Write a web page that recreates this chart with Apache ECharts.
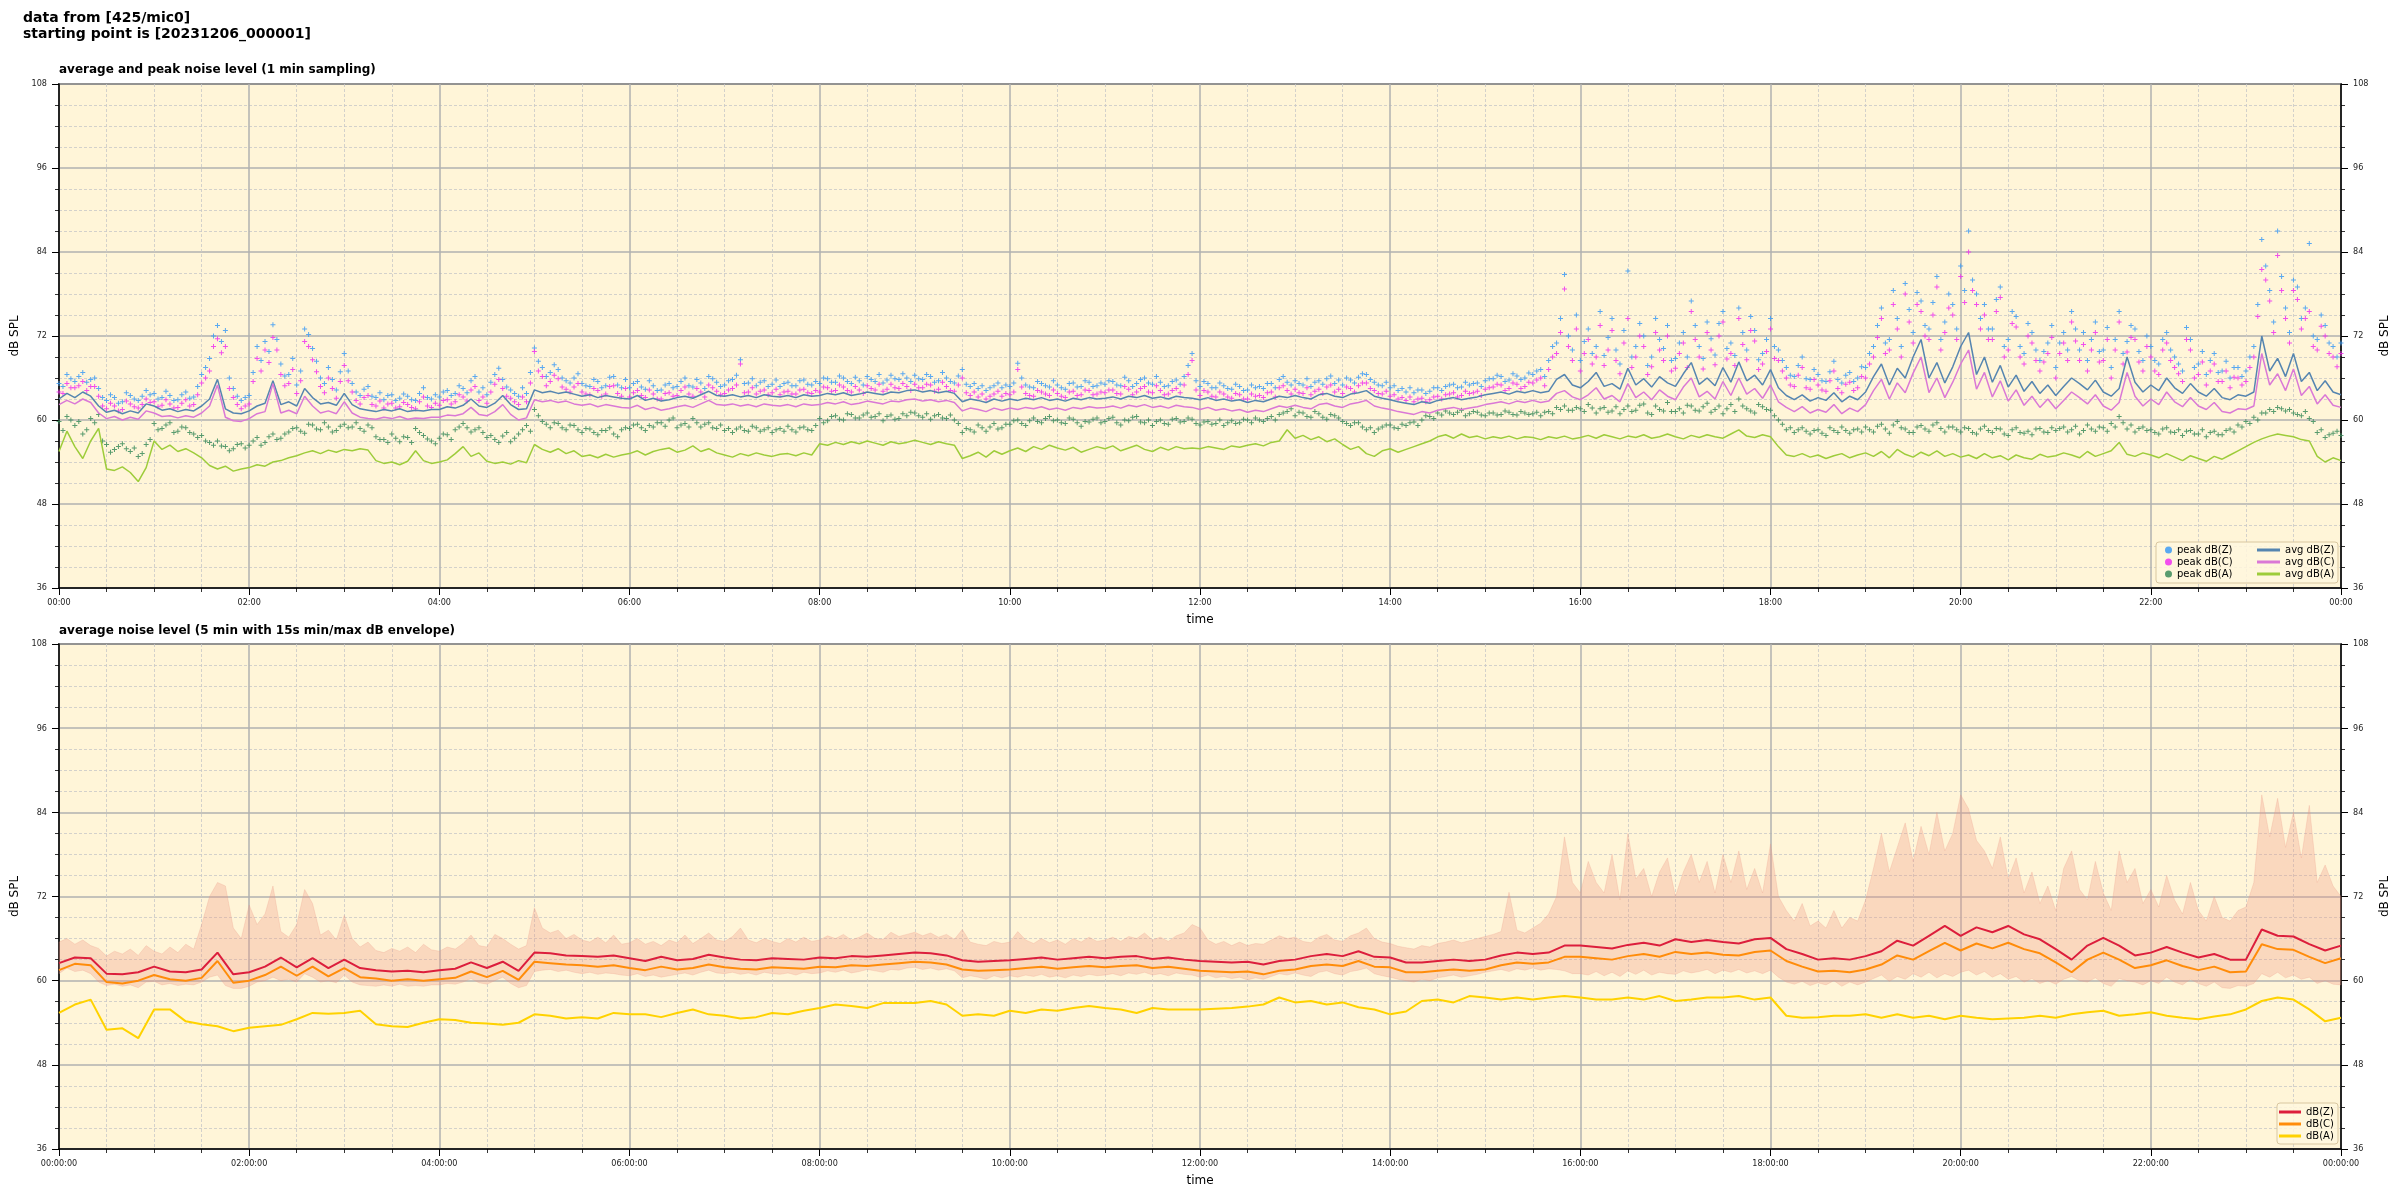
<!DOCTYPE html>
<html><head><meta charset="utf-8">
<script src="https://cdn.jsdelivr.net/npm/echarts@6/dist/echarts.min.js"></script>
<style>html,body{margin:0;padding:0;background:#fff}#c{width:2400px;height:1200px}</style>
</head><body><div id="c"></div>
<script>
// ---------- tick labels ----------
const topTickLabels = ['00:00','02:00','04:00','06:00','08:00','10:00','12:00','14:00','16:00','18:00','20:00','22:00','00:00'];
const bottomTickLabels = ['00:00:00','02:00:00','04:00:00','06:00:00','08:00:00','10:00:00','12:00:00','14:00:00','16:00:00','18:00:00','20:00:00','22:00:00','00:00:00'];

// ---------- top chart: 5-min samples, one row per hour ----------
const avgZ = [
63.0,63.8,63.2,64.0,63.4,62.0,61.1,61.4,60.9,61.3,61.0,62.3,
62.0,61.4,61.6,61.2,61.5,61.3,62.0,63.0,65.8,61.6,61.0,60.9,
61.3,62.0,62.4,65.6,62.2,62.6,62.0,64.5,63.2,62.3,62.5,62.1,
63.8,62.2,61.6,61.4,61.2,61.5,61.3,61.6,61.2,61.4,61.3,61.5,
61.5,61.9,61.7,62.1,63.0,62.0,61.8,62.4,63.5,62.2,61.5,61.6,
64.3,63.9,64.1,63.8,64.0,63.7,63.4,63.6,63.2,63.5,63.3,63.1,
63.0,63.5,62.8,63.1,62.7,62.9,63.2,63.4,63.1,63.6,64.1,63.5,
63.4,63.6,63.3,63.5,63.2,63.6,63.4,63.3,63.5,63.2,63.6,63.4,
63.5,63.8,63.6,63.9,63.5,63.7,64.0,63.8,63.6,64.0,63.9,64.2,
64.3,64.0,64.2,63.9,64.1,63.8,62.6,63.0,62.8,62.5,63.0,62.7,
63.0,62.8,63.1,62.9,63.2,62.8,63.0,62.7,63.1,62.9,63.2,63.0,
63.1,63.3,63.0,63.4,63.2,63.5,63.1,63.3,63.0,63.4,63.2,63.1,
62.9,63.2,62.8,63.0,62.7,62.9,62.5,62.8,62.6,63.0,63.4,63.2,
63.5,63.2,63.0,63.6,63.8,63.4,63.2,63.7,63.9,64.2,63.4,63.1,
62.9,62.6,62.4,62.2,62.6,62.4,62.8,63.0,63.2,62.9,63.1,63.3,
63.6,63.8,64.0,63.7,64.1,63.9,64.2,63.9,64.1,65.8,66.5,65.0,
64.6,65.5,66.8,64.8,65.2,64.4,67.4,65.0,65.9,64.7,66.2,65.3,
64.8,66.6,68.2,65.1,66.0,64.9,67.5,65.4,68.3,65.6,66.4,65.0,
67.2,64.6,63.5,62.9,63.6,62.7,63.2,62.8,63.9,62.6,63.4,62.9,
64.0,66.2,68.0,65.0,67.4,66.0,69.0,71.5,66.0,68.2,65.3,67.6,
70.5,72.5,66.5,69.0,65.4,67.8,64.7,66.4,64.1,65.5,63.8,65.0,
63.5,64.8,66.0,65.2,64.3,65.7,64.0,63.4,64.5,69.0,65.4,64.0,
65.0,64.2,66.0,64.6,63.8,65.2,64.0,63.4,64.5,63.2,62.9,63.6,
63.4,64.0,72.0,67.0,68.8,66.2,69.5,65.5,66.8,64.2,65.6,64.0,
63.6];
const avgC = [
62.2,62.8,62.3,63.0,62.5,61.0,60.2,60.5,60.0,60.4,60.1,61.3,
61.0,60.5,60.6,60.3,60.6,60.4,61.0,62.0,65.0,60.4,59.9,59.8,
60.2,60.9,61.2,65.2,61.0,61.4,60.9,63.4,62.0,61.0,61.3,60.9,
62.6,61.0,60.4,60.2,60.1,60.4,60.2,60.5,60.1,60.3,60.2,60.4,
60.4,60.7,60.6,60.9,61.8,60.8,60.6,61.2,62.2,60.8,60.0,60.3,
62.9,62.6,62.8,62.5,62.7,62.3,62.1,62.3,61.9,62.2,62.0,61.8,
61.7,62.1,61.5,61.8,61.4,61.6,61.9,62.1,61.8,62.3,62.8,62.2,
62.1,62.3,62.0,62.2,61.9,62.3,62.1,62.0,62.2,61.9,62.3,62.1,
62.2,62.5,62.3,62.6,62.2,62.4,62.7,62.5,62.3,62.7,62.6,62.9,
63.0,62.7,62.9,62.6,62.8,62.5,61.3,61.7,61.5,61.2,61.7,61.4,
61.7,61.5,61.8,61.6,61.9,61.5,61.7,61.4,61.8,61.6,61.9,61.7,
61.8,62.0,61.7,62.1,61.9,62.2,61.8,62.0,61.7,62.1,61.9,61.8,
61.5,61.8,61.4,61.6,61.3,61.5,61.1,61.4,61.2,61.6,62.0,61.8,
62.1,61.8,61.6,62.2,62.4,62.0,61.8,62.3,62.5,62.8,62.0,61.7,
61.5,61.2,61.0,60.8,61.2,61.0,61.4,61.6,61.8,61.5,61.7,61.9,
62.2,62.4,62.6,62.3,62.7,62.5,62.8,62.5,62.7,63.8,64.2,63.3,
62.9,63.6,64.6,63.0,63.5,62.6,65.2,63.2,64.0,62.9,64.3,63.4,
62.9,64.7,66.0,63.3,64.1,63.0,65.5,63.5,66.0,63.7,64.5,63.1,
65.0,62.6,61.8,61.2,61.9,61.0,61.5,61.1,62.2,60.9,61.7,61.2,
62.2,64.2,65.8,63.0,65.3,63.9,66.7,69.0,63.9,66.0,63.2,65.4,
68.0,70.0,64.4,66.8,63.3,65.6,62.7,64.3,62.1,63.4,61.8,63.0,
61.6,62.8,64.0,63.2,62.3,63.6,62.0,61.4,62.5,66.8,63.4,62.0,
63.0,62.2,64.0,62.6,61.9,63.2,62.0,61.5,62.5,61.2,61.0,61.6,
61.5,62.0,69.5,65.0,66.6,64.2,67.3,63.5,64.8,62.3,63.6,62.1,
61.8];
const avgA = [
55.5,58.4,56.2,54.5,57.0,58.8,53.0,52.8,53.3,52.5,51.2,53.2,
57.0,55.8,56.4,55.5,55.9,55.3,54.6,53.5,53.0,53.4,52.7,53.0,
53.2,53.6,53.4,54.0,54.2,54.6,54.9,55.3,55.6,55.2,55.7,55.4,
55.8,55.6,55.9,55.7,54.2,53.8,54.0,53.6,54.1,55.6,54.2,53.8,
54.0,54.3,55.2,56.2,54.8,55.3,54.1,53.8,54.0,53.7,54.2,53.9,
56.5,55.8,55.4,55.9,55.2,55.6,54.8,55.0,54.6,55.1,54.7,55.0,
55.2,55.6,55.0,55.5,55.8,56.0,55.4,55.7,56.3,55.5,55.9,55.3,
55.0,54.7,55.2,54.9,55.3,55.0,54.8,55.1,55.2,54.9,55.3,55.0,
56.6,56.4,56.8,56.5,56.9,56.6,57.0,56.7,56.4,56.9,56.6,56.8,
57.1,56.8,56.5,56.9,56.6,56.4,54.5,54.9,55.4,54.7,55.6,55.1,
55.6,56.0,55.5,56.2,55.8,56.4,56.0,55.7,56.1,55.4,55.8,56.2,
55.9,56.3,55.6,56.0,56.4,55.8,55.5,56.1,55.7,56.2,55.9,56.0,
55.9,56.2,56.0,55.8,56.3,56.1,56.4,56.6,56.3,56.8,57.0,58.6,
57.4,57.8,57.2,57.6,56.9,57.3,56.5,55.8,56.2,55.2,54.8,55.6,
55.9,55.4,55.8,56.2,56.6,57.0,57.6,57.9,57.4,58.0,57.5,57.7,
57.3,57.6,57.4,57.7,57.3,57.6,57.5,57.2,57.6,57.4,57.7,57.3,
57.5,57.8,57.4,57.9,57.6,57.3,57.7,57.5,57.9,57.4,57.6,58.0,
57.6,57.3,57.8,57.5,57.9,57.6,57.4,58.0,58.6,57.7,57.5,57.9,
57.6,56.2,55.0,54.8,55.2,54.7,55.0,54.5,54.9,55.2,54.6,55.0,
55.3,54.8,55.5,54.6,55.8,55.1,54.7,55.4,54.9,55.6,54.8,55.2,
54.7,55.0,54.5,55.2,54.6,54.9,54.3,55.0,54.6,54.4,55.1,54.7,
54.9,55.3,55.0,54.6,55.5,54.8,55.2,55.6,56.8,55.1,54.8,55.3,
55.0,54.6,55.2,54.7,54.2,54.9,54.5,54.1,54.8,54.4,55.0,55.6,
56.2,56.8,57.3,57.7,58.0,57.8,57.6,57.2,57.0,54.8,54.0,54.6,
54.2];
// peaks on the 5-min marks
const peakZ = [
65.2,66.5,65.5,66.8,65.8,64.5,62.8,63.2,62.6,63.5,62.8,64.2,
63.8,63.2,63.5,62.9,64.0,63.3,66.5,68.8,73.5,72.8,64.5,62.8,
63.5,70.5,71.2,73.6,68.0,66.5,65.0,73.0,70.2,66.0,67.5,64.3,
69.5,65.2,63.5,64.8,63.2,62.9,63.6,63.1,63.4,62.8,64.6,63.0,
63.3,64.2,63.8,64.5,65.6,64.0,63.6,66.5,65.8,64.3,63.4,63.8,
70.3,67.5,66.8,67.2,65.6,66.0,65.2,64.8,65.5,64.9,66.2,64.6,
64.6,65.5,64.4,64.9,64.3,65.2,64.8,66.0,64.7,65.3,66.2,65.4,
65.0,65.8,68.6,65.3,64.9,65.6,65.1,64.8,65.4,64.9,65.7,65.0,
65.2,65.9,65.4,66.0,65.2,65.6,66.2,65.5,65.3,66.4,65.8,66.0,
66.4,65.8,66.2,65.6,66.0,65.3,67.2,64.8,64.5,64.2,64.9,64.6,
64.8,68.1,65.0,64.6,65.2,64.7,65.0,64.4,65.3,64.8,65.4,64.9,
65.1,65.5,64.9,65.6,65.2,66.0,65.1,65.4,64.9,65.7,66.2,69.5,
64.8,65.2,64.6,64.9,64.4,64.8,64.3,64.6,64.5,65.2,65.8,65.4,
65.6,65.0,64.8,65.6,65.9,65.2,65.0,65.7,66.1,66.5,65.4,64.9,
64.6,64.2,64.0,63.9,64.3,64.1,64.6,64.8,65.1,64.7,65.0,65.3,
65.6,65.9,66.2,65.7,66.3,66.0,66.5,67.2,68.5,71.0,80.8,70.0,
68.5,73.0,70.5,69.2,74.5,68.0,81.3,70.5,72.0,69.0,71.5,73.5,
68.8,72.5,77.0,70.5,74.0,69.3,75.5,71.0,76.0,70.0,72.8,69.5,
74.5,70.0,67.5,66.2,69.0,65.8,66.5,65.5,68.4,65.3,66.8,66.0,
67.5,70.5,76.0,71.5,74.5,79.5,72.5,77.0,73.0,80.5,74.0,76.5,
82.0,87.0,78.0,76.5,73.0,79.0,71.5,74.8,69.5,72.5,68.5,71.0,
67.5,72.5,75.5,70.0,68.5,74.0,70.0,67.5,75.5,71.2,73.0,68.5,
70.5,68.0,72.5,69.0,67.0,71.5,68.0,66.5,69.5,67.0,66.0,67.5,
67.0,70.5,85.8,78.5,87.0,76.0,80.0,74.5,85.2,71.5,73.5,70.5,
71.0];
const peakC = [
64.0,65.2,64.6,65.5,64.8,63.4,61.6,62.0,61.5,62.3,61.7,63.0,
62.6,62.1,62.3,61.8,62.9,62.2,65.3,67.0,71.6,70.5,63.2,61.6,
62.3,68.8,70.0,71.8,66.5,65.2,63.8,71.2,68.6,64.8,66.0,63.1,
67.8,64.0,62.3,63.5,62.0,61.7,62.4,61.9,62.2,61.6,63.3,61.8,
62.1,62.9,62.6,63.3,64.3,62.8,62.4,65.1,64.5,63.1,62.2,62.6,
69.8,66.2,65.5,65.9,64.4,64.7,64.0,63.6,64.2,63.7,64.9,63.4,
63.3,64.2,63.2,63.7,63.0,63.9,63.5,64.7,63.4,64.0,65.0,64.1,
63.8,64.5,68.0,64.0,63.7,64.3,63.9,63.6,64.1,63.7,64.4,63.8,
64.0,64.6,64.2,64.7,64.0,64.3,64.9,64.3,64.1,65.1,64.5,64.8,
65.1,64.6,65.0,64.4,64.8,64.1,66.0,63.5,63.3,63.0,63.7,63.4,
63.6,67.2,63.8,63.4,64.0,63.5,63.8,63.2,64.1,63.6,64.2,63.7,
63.9,64.3,63.7,64.4,64.0,64.8,63.9,64.2,63.7,64.5,65.0,68.5,
63.5,64.0,63.3,63.7,63.1,63.6,63.0,63.4,63.2,64.0,64.6,64.2,
64.4,63.8,63.6,64.4,64.7,64.0,63.8,64.5,64.9,65.3,64.2,63.7,
63.4,63.0,62.8,62.6,63.1,62.9,63.4,63.6,63.9,63.5,63.8,64.1,
64.4,64.7,65.0,64.5,65.1,64.8,65.3,66.0,67.2,69.5,78.7,68.5,
67.0,71.5,69.0,67.8,72.8,66.6,74.5,69.0,70.5,67.6,70.0,72.0,
67.4,71.0,75.5,69.0,72.5,67.9,74.0,69.5,74.5,68.6,71.3,68.0,
73.0,68.5,66.0,64.8,67.5,64.4,65.0,64.1,67.0,63.9,65.4,64.6,
66.0,69.0,74.5,70.0,73.0,78.0,71.0,75.5,71.5,79.0,72.5,75.0,
80.5,84.0,76.5,75.0,71.5,77.5,70.0,73.3,68.0,71.0,67.0,69.5,
66.0,71.0,74.0,68.5,67.0,72.5,68.5,66.0,74.0,69.7,71.5,67.0,
69.0,66.5,71.0,67.5,65.5,70.0,66.5,65.0,68.0,65.5,64.6,66.0,
65.5,69.0,81.5,77.0,83.5,74.5,78.5,73.0,75.5,70.0,72.0,69.0,
69.5];
const peakA = [
59.8,60.5,59.2,58.0,60.2,60.8,56.5,55.8,56.6,55.5,54.8,56.5,
59.5,58.8,59.6,58.4,58.9,58.0,57.8,56.8,57.0,56.2,55.9,56.6,
56.4,57.5,56.8,58.0,57.4,58.3,58.9,58.1,59.3,58.6,59.0,58.5,
59.4,59.0,58.8,59.3,57.6,57.2,58.0,56.9,57.5,58.8,57.8,57.0,
57.4,57.9,58.6,59.5,58.3,58.9,57.5,57.2,57.7,56.9,58.0,59.2,
61.5,59.8,58.9,59.5,58.6,59.2,58.2,58.7,57.9,58.5,58.0,58.6,
58.8,59.4,58.5,59.0,59.6,60.0,58.9,59.5,60.2,59.0,59.6,58.8,
58.5,58.2,59.0,58.4,58.9,58.6,58.2,58.8,59.1,58.3,59.0,58.5,
60.2,59.9,60.6,60.0,60.8,60.3,61.0,60.5,59.9,60.7,60.2,60.6,
61.0,60.4,60.1,60.8,60.2,60.0,58.2,58.6,59.3,58.4,59.5,58.9,
59.4,60.0,59.2,60.3,59.6,60.5,60.0,59.5,60.1,59.1,59.7,60.3,
59.8,60.4,59.3,59.9,60.5,59.6,59.2,60.0,59.4,60.2,59.8,60.1,
59.3,59.8,59.5,59.2,59.9,59.6,60.0,60.3,59.8,60.5,60.8,61.2,
60.6,61.0,60.4,60.9,60.1,60.6,59.8,59.2,59.6,58.6,58.2,59.0,
59.3,58.8,59.2,59.7,60.0,60.5,61.0,61.3,60.8,61.4,60.9,61.1,
60.6,61.0,60.8,61.1,60.7,61.0,60.9,60.6,61.2,61.8,62.0,61.4,
61.6,62.2,61.0,61.8,61.3,60.9,62.0,61.4,62.3,60.8,61.5,62.5,
61.2,61.0,62.0,61.3,62.4,61.5,60.9,62.2,63.0,61.6,61.0,61.9,
61.4,60.0,58.6,58.2,58.9,58.0,58.6,57.8,58.5,59.0,58.1,58.7,
59.0,58.3,59.4,58.1,59.8,58.7,58.2,59.2,58.4,59.6,58.3,59.0,
58.3,58.8,58.0,59.1,58.2,58.7,57.8,58.9,58.1,57.9,58.8,58.2,
58.5,59.0,58.6,58.0,59.3,58.4,58.9,59.5,60.5,58.7,58.3,59.0,
58.6,58.0,58.9,58.2,57.8,58.5,58.0,57.6,58.4,57.9,58.7,59.3,
59.8,60.4,61.0,61.5,61.8,61.3,61.0,60.6,60.2,58.2,57.5,58.1,
57.8];
// peaks half-way between the 5-min marks (minute 2.5, 7.5, ...)
const peakZ2 = [
64.8,65.9,66.2,65.4,66.0,63.2,63.6,62.4,63.9,63.0,63.4,63.6,
63.0,64.1,62.8,63.6,63.1,64.8,67.5,72.0,71.2,66.0,63.4,63.2,
66.8,68.5,69.8,71.5,66.3,68.8,67.0,72.2,68.4,65.2,65.8,66.9,
67.0,64.0,64.4,63.4,63.9,63.5,62.8,63.7,62.9,63.8,63.2,63.6,
64.0,63.5,64.9,63.9,66.2,64.6,65.4,67.4,64.7,63.8,64.6,66.8,
68.4,66.2,67.9,66.0,65.3,66.6,64.9,65.8,64.6,66.1,65.0,65.8,
65.2,64.7,65.6,64.2,65.0,64.6,65.5,64.9,65.8,64.5,65.9,64.8,
65.6,66.4,65.2,65.9,65.4,64.8,65.7,65.2,64.9,65.6,65.1,65.5,
66.0,65.4,66.3,65.5,66.1,65.0,65.8,66.5,65.7,65.9,66.6,65.5,
65.9,66.5,65.4,66.8,65.5,66.3,65.1,65.2,64.9,64.6,65.3,65.0,
65.3,66.0,64.7,65.5,64.9,65.6,64.6,65.2,64.7,65.6,64.8,65.3,
65.6,65.0,66.1,64.8,65.8,65.3,66.2,64.8,65.5,65.1,67.8,65.6,
65.5,64.6,65.3,64.5,65.1,64.2,65.0,64.8,65.2,64.6,66.2,65.0,
65.2,65.9,65.4,65.1,66.3,65.7,66.0,65.3,66.6,65.8,65.0,65.4,
64.9,64.5,64.6,64.3,63.8,64.6,64.2,65.0,64.6,65.4,65.2,64.8,
65.9,66.4,65.5,66.6,65.8,66.7,67.0,66.2,70.5,74.5,72.0,75.0,
71.2,69.5,75.5,71.8,70.0,72.8,69.0,73.8,67.8,74.5,70.2,68.5,
71.0,69.0,73.5,68.8,71.6,73.8,70.2,69.2,72.5,74.8,68.6,71.5,
70.5,68.5,66.4,67.8,65.9,67.2,65.6,66.9,65.8,66.4,65.5,67.6,
69.5,73.5,71.0,78.5,70.5,75.8,78.2,73.5,76.8,71.5,78.0,73.0,
78.5,80.0,74.5,73.0,77.2,70.5,75.5,70.5,73.8,70.0,69.8,73.5,
71.0,70.0,73.0,72.5,71.5,69.8,73.2,71.5,69.5,73.5,69.8,72.0,
68.5,71.5,70.0,68.0,73.2,67.5,69.8,68.5,66.8,68.4,67.5,66.2,
69.0,76.5,82.0,74.0,80.5,72.5,79.0,76.0,72.0,75.0,71.0,69.0];
const peakC2 = [
63.8,64.6,64.9,64.2,64.8,62.0,62.4,61.3,62.7,61.9,62.2,62.5,
61.9,62.9,61.7,62.4,62.0,63.6,66.0,70.5,69.6,64.5,62.2,62.0,
65.5,67.0,68.2,70.0,64.9,67.2,65.6,70.5,66.9,63.9,64.5,65.5,
65.6,62.8,63.2,62.2,62.7,62.3,61.7,62.5,61.8,62.6,62.0,62.4,
62.8,62.3,63.6,62.7,64.8,63.3,64.0,65.8,63.4,62.6,63.3,65.3,
67.0,64.9,66.4,64.7,64.0,65.2,63.7,64.5,63.4,64.8,63.8,64.5,
63.9,63.5,64.3,63.0,63.8,63.4,64.2,63.7,64.5,63.3,64.6,63.6,
64.3,65.0,63.9,64.6,64.1,63.6,64.4,64.0,63.7,64.3,63.9,64.2,
64.7,64.1,65.0,64.2,64.8,63.8,64.5,65.1,64.4,64.6,65.2,64.2,
64.6,65.1,64.1,65.4,64.2,65.0,63.9,64.0,63.7,63.4,64.1,63.8,
64.0,64.7,63.5,64.2,63.7,64.3,63.4,64.0,63.5,64.3,63.6,64.0,
64.3,63.8,64.8,63.6,64.5,64.0,64.9,63.6,64.2,63.9,66.5,64.3,
64.2,63.4,64.0,63.3,63.8,63.0,63.7,63.5,63.9,63.3,64.9,63.7,
63.9,64.6,64.1,63.8,65.0,64.4,64.7,64.0,65.3,64.5,63.8,64.1,
63.6,63.2,63.3,63.0,62.6,63.3,63.0,63.7,63.3,64.1,63.9,63.5,
64.6,65.1,64.2,65.3,64.5,65.4,65.7,64.9,69.0,72.5,70.5,73.0,
69.5,68.0,73.5,70.0,68.5,71.0,67.5,72.0,66.5,72.5,68.5,67.0,
69.5,67.5,71.5,67.3,70.0,72.0,68.7,67.8,70.8,72.8,67.2,69.8,
68.8,67.0,65.0,66.4,64.6,65.8,64.3,65.6,64.5,65.1,64.2,66.2,
68.0,71.8,69.5,76.5,69.0,74.0,76.5,72.0,75.0,70.0,76.0,71.5,
76.8,78.5,73.0,71.5,75.5,69.0,73.8,69.0,72.0,68.5,68.3,71.8,
69.5,68.5,71.3,70.8,70.0,68.3,71.5,70.0,68.0,71.8,68.3,70.5,
67.0,70.0,68.5,66.6,71.5,66.0,68.3,67.0,65.5,67.0,66.1,65.0,
67.5,74.8,80.0,72.5,78.5,71.0,77.2,74.5,70.5,73.4,69.5,67.6];
const peakA2 = [
58.5,60.0,59.8,58.6,59.6,57.0,55.4,56.2,55.9,56.0,55.2,57.2,
58.6,59.3,58.2,59.0,58.2,57.5,57.0,56.4,56.3,55.6,56.5,56.0,
57.0,56.4,57.6,57.2,58.0,58.8,58.4,59.4,58.7,59.6,58.3,59.1,
58.9,59.6,58.4,58.9,57.2,56.8,57.4,57.6,56.8,58.2,57.3,56.6,
58.0,57.2,59.0,58.9,58.6,58.2,57.8,56.8,58.2,57.4,58.6,58.4,
60.6,59.4,59.6,58.9,59.3,58.6,58.8,58.2,58.5,58.9,57.6,58.9,
59.3,58.9,59.2,59.6,59.1,60.3,59.3,59.0,59.6,59.4,58.9,59.3,
58.8,58.7,58.5,59.1,58.4,58.9,58.6,58.4,58.6,58.9,58.6,59.2,
59.6,60.5,60.1,60.9,60.3,60.7,60.4,60.9,60.5,60.1,60.9,61.1,
60.6,60.9,60.6,60.3,60.7,59.5,58.8,58.3,58.9,59.0,58.7,59.4,
59.9,59.5,59.9,59.8,60.2,59.9,59.6,60.3,59.6,59.8,60.1,59.6,
60.2,59.6,60.0,60.4,59.7,60.0,59.8,59.5,60.1,59.7,60.3,59.5,
59.7,59.4,60.0,59.6,59.5,60.1,59.6,60.0,60.2,60.0,61.0,61.6,
61.1,60.5,61.2,60.4,60.8,60.3,59.5,59.6,59.0,58.9,58.7,59.3,
58.9,59.4,59.6,59.2,60.6,60.2,60.7,61.0,61.1,60.6,61.2,60.7,
61.0,60.7,61.3,60.8,61.2,60.8,61.1,61.1,60.9,61.5,61.4,61.8,
61.2,61.7,61.6,61.1,61.9,61.5,61.2,62.1,61.0,62.0,61.3,61.2,
61.6,62.1,61.4,61.9,61.1,62.0,61.6,61.2,62.0,61.3,62.2,61.5,
60.6,59.4,58.9,58.6,58.4,58.5,58.1,58.9,58.2,58.5,58.6,58.3,
58.6,59.1,58.7,59.3,58.9,58.2,59.0,58.7,59.3,58.8,59.0,58.6,
58.9,58.2,58.7,58.5,58.8,58.0,58.6,58.2,58.4,58.7,58.3,58.9,
58.8,58.3,59.1,58.5,58.7,59.0,58.4,59.0,59.6,59.3,58.8,58.5,
58.2,58.7,58.3,58.6,58.4,58.0,58.6,58.2,57.9,58.5,58.3,59.0,
59.5,60.0,61.0,61.2,61.6,61.5,60.8,61.2,59.8,58.6,57.9,58.4];

// ---------- bottom chart: 5-min averages sampled every 10 min (2 h per row) ----------
const lvlZ = [
62.5,63.3,63.2,61.0,60.9,61.2,62.0,61.3,61.2,61.6,64.0,60.9,
61.2,62.0,63.3,61.9,63.2,61.8,63.0,61.8,61.5,61.3,61.4,61.2,
61.5,61.7,62.6,61.8,62.7,61.4,64.0,63.9,63.6,63.5,63.4,63.6,
63.2,62.8,63.4,62.9,63.1,63.7,63.3,63.0,62.9,63.2,63.1,63.0,
63.3,63.2,63.5,63.4,63.6,63.8,64.0,63.9,63.6,62.9,62.7,62.8,
62.9,63.1,63.3,63.0,63.2,63.4,63.2,63.4,63.5,63.1,63.3,63.0,
62.8,62.7,62.6,62.7,62.3,62.8,63.0,63.5,63.8,63.5,64.2,63.4,
63.3,62.6,62.6,62.8,63.0,62.8,63.0,63.6,64.0,63.8,64.0,65.0,
65.0,64.8,64.6,65.1,65.4,65.0,65.9,65.5,65.8,65.5,65.3,65.9,
66.1,64.5,63.8,63.0,63.2,63.0,63.5,64.2,65.7,65.0,66.4,67.8,
66.4,67.6,66.9,67.8,66.6,65.9,64.5,63.0,65.0,66.1,65.0,63.6,
64.0,64.8,64.0,63.3,63.8,63.0,63.0,67.3,66.4,66.3,65.2,64.3,
65.0];
const lvlC = [
61.5,62.4,62.2,59.8,59.6,60.0,60.8,60.2,60.0,60.4,62.8,59.7,
60.0,60.8,62.0,60.7,62.0,60.6,61.8,60.5,60.3,60.0,60.2,60.0,
60.2,60.4,61.3,60.5,61.4,60.1,62.7,62.5,62.3,62.2,62.0,62.2,
61.8,61.5,62.0,61.6,61.8,62.3,61.9,61.7,61.6,61.9,61.8,61.7,
62.0,61.9,62.2,62.1,62.3,62.5,62.7,62.6,62.3,61.6,61.4,61.5,
61.6,61.8,62.0,61.7,61.9,62.1,61.9,62.1,62.2,61.8,62.0,61.7,
61.4,61.3,61.2,61.3,60.9,61.4,61.6,62.1,62.3,62.1,62.8,62.0,
61.9,61.2,61.2,61.4,61.6,61.4,61.6,62.2,62.6,62.4,62.6,63.4,
63.4,63.2,63.0,63.5,63.8,63.4,64.1,63.8,64.0,63.7,63.6,64.1,
64.3,62.8,62.0,61.3,61.4,61.2,61.6,62.3,63.6,63.0,64.2,65.4,
64.3,65.3,64.6,65.4,64.5,63.9,62.6,61.2,63.0,64.0,63.0,61.8,
62.2,62.9,62.1,61.5,62.0,61.2,61.3,65.2,64.5,64.4,63.4,62.5,
63.2];
const lvlA = [
55.4,56.6,57.3,53.0,53.2,51.8,55.9,55.9,54.2,53.8,53.5,52.8,
53.3,53.5,53.7,54.5,55.4,55.3,55.4,55.7,53.8,53.5,53.4,54.0,
54.5,54.4,54.0,53.9,53.7,54.0,55.2,55.0,54.6,54.8,54.6,55.4,
55.2,55.2,54.8,55.4,55.9,55.2,55.0,54.6,54.8,55.4,55.2,55.7,
56.1,56.6,56.4,56.1,56.8,56.8,56.8,57.1,56.6,55.0,55.2,55.0,
55.7,55.4,55.9,55.7,56.1,56.4,56.1,55.9,55.4,56.1,55.9,55.9,
55.9,56.0,56.1,56.3,56.6,57.6,56.9,57.1,56.6,56.9,56.2,55.9,
55.2,55.6,57.1,57.3,56.9,57.8,57.6,57.3,57.6,57.3,57.6,57.8,
57.6,57.3,57.3,57.6,57.3,57.8,57.1,57.3,57.6,57.6,57.8,57.3,
57.6,55.0,54.7,54.8,55.0,55.0,55.2,54.7,55.2,54.7,55.0,54.5,
55.0,54.7,54.5,54.6,54.7,55.0,54.7,55.2,55.5,55.7,55.0,55.2,
55.5,55.0,54.7,54.5,54.9,55.2,55.9,57.1,57.6,57.3,55.9,54.2,
54.7];
// 15 s min/max envelope, 5-min samples (1 h per row)
const envMax = [
65.5,66.0,65.2,65.8,65.0,64.6,63.5,64.2,63.8,64.5,63.6,65.0,
64.2,63.8,64.8,64.0,65.2,64.5,68.0,72.0,74.0,73.5,67.5,66.0,
70.8,68.0,69.5,73.5,67.0,66.2,68.0,73.0,71.0,66.5,67.2,65.8,
69.3,66.0,64.8,65.5,64.3,64.0,64.6,64.2,64.8,64.0,65.2,64.4,
64.2,64.8,64.5,65.3,66.5,65.0,64.8,66.6,66.0,65.2,64.5,65.0,
70.4,67.5,66.8,67.2,66.0,66.6,65.8,65.5,66.2,65.4,66.5,65.2,
65.4,66.0,65.2,65.6,65.0,65.8,65.4,66.5,65.3,66.0,66.8,65.8,
65.6,66.3,67.5,65.8,65.4,66.0,65.6,65.3,66.0,65.5,66.2,65.6,
65.8,66.4,66.0,66.6,65.8,66.2,66.8,66.0,65.9,66.9,66.3,66.6,
66.9,66.4,66.8,66.2,66.6,65.9,67.3,65.5,65.2,65.0,65.6,65.3,
65.5,67.0,65.8,65.3,66.0,65.4,65.8,65.2,66.0,65.5,66.2,65.6,
65.8,66.2,65.6,66.3,66.0,66.8,65.8,66.2,65.6,66.4,66.8,68.0,
67.5,65.8,65.2,65.6,65.0,65.5,65.0,65.3,65.2,65.8,66.4,66.0,
66.2,65.6,65.4,66.2,66.6,65.8,65.6,66.4,66.8,67.5,66.0,65.5,
65.3,64.9,64.7,64.5,65.0,64.8,65.3,65.5,65.8,65.4,65.7,66.0,
66.3,66.6,67.0,72.6,67.2,66.8,67.5,68.2,69.5,72.0,80.5,74.0,
72.5,77.0,74.0,72.5,78.0,71.5,81.0,74.5,76.0,72.0,75.5,77.5,
72.0,75.5,78.0,74.0,77.0,72.5,78.0,74.0,78.5,73.0,76.0,72.5,
79.5,72.0,70.0,68.5,71.0,67.8,68.5,67.5,70.0,67.5,69.0,68.5,
71.5,76.0,81.0,75.5,79.0,82.5,77.0,82.0,78.0,84.0,78.5,81.0,
86.5,84.5,80.0,78.5,76.0,80.5,74.5,77.5,72.5,75.5,71.0,73.5,
70.0,76.0,78.5,73.0,71.5,77.0,72.5,70.0,78.5,74.0,76.0,71.0,
73.0,70.5,75.0,71.5,69.5,74.0,70.0,68.5,72.0,69.0,68.5,70.0,
70.5,74.0,86.5,80.5,86.0,79.0,84.0,77.5,85.0,74.0,76.5,73.5,
72.0];
const envMin = [
61.0,61.8,61.3,61.5,61.0,59.8,59.3,59.5,59.2,59.4,59.0,59.8,
59.9,59.4,59.6,59.3,59.5,59.4,59.8,60.5,60.8,59.3,58.9,58.9,
59.2,59.8,60.0,60.5,60.0,60.2,59.8,61.0,60.5,59.8,60.0,59.7,
60.8,59.8,59.4,59.3,59.2,59.4,59.2,59.5,59.2,59.3,59.2,59.4,
59.4,59.6,59.5,59.8,60.3,59.7,59.5,60.0,60.5,59.6,59.0,59.3,
61.3,61.5,61.6,61.3,61.5,61.2,61.0,61.2,60.9,61.1,61.0,60.8,
60.7,61.0,60.6,60.8,60.5,60.7,60.9,61.1,60.8,61.2,61.5,61.1,
61.0,61.2,60.9,61.1,60.8,61.2,61.0,60.9,61.1,60.8,61.2,61.0,
61.1,61.4,61.2,61.5,61.1,61.3,61.6,61.4,61.2,61.6,61.5,61.8,
61.9,61.6,61.8,61.5,61.7,61.4,60.4,60.7,60.5,60.2,60.7,60.4,
60.7,60.5,60.8,60.6,60.9,60.5,60.7,60.4,60.8,60.6,60.9,60.7,
60.8,61.0,60.7,61.1,60.9,61.2,60.8,61.0,60.7,61.1,60.9,60.8,
60.5,60.8,60.4,60.6,60.3,60.5,60.1,60.4,60.2,60.6,61.0,60.8,
61.1,60.8,60.6,61.2,61.4,61.0,60.8,61.3,61.5,61.8,61.0,60.7,
60.5,60.2,60.0,59.8,60.2,60.0,60.4,60.6,60.8,60.5,60.7,60.9,
61.2,61.4,61.6,61.3,61.7,61.5,61.8,61.5,61.7,61.6,61.4,61.0,
61.0,60.8,61.3,60.7,61.2,60.6,61.4,60.9,61.5,60.8,61.2,61.0,
60.9,61.4,61.1,61.3,61.6,61.0,61.5,61.2,61.6,61.1,61.4,61.0,
61.5,60.5,59.8,59.5,59.9,59.3,59.7,59.4,60.0,59.2,59.8,59.4,
59.8,60.3,60.8,59.9,60.6,60.2,61.0,60.5,61.2,60.4,61.0,60.6,
61.2,61.5,60.8,61.3,60.5,61.0,60.2,60.6,59.8,60.3,59.6,60.0,
59.5,60.2,60.6,60.0,59.8,60.4,59.6,59.2,60.3,60.0,59.8,59.4,
60.0,59.6,60.5,59.8,59.4,60.2,59.6,59.2,59.8,59.0,58.9,59.3,
59.2,59.6,61.0,60.5,61.2,60.4,60.8,60.2,60.5,59.6,60.0,59.5,
59.4];

// ---------- build ----------
const pairs = (arr, step) => arr.map((v, i) => [i * step, v]);
const pairsMid = arr => arr.map((v, i) => [i * 5 + 2.5, v]);
const plus = 'path://M2,0H3V2H5V3H3V5H2V3H0V2H2Z';
const FONT = 'DejaVu Sans';
const TICKFONT = 'DejaVu Sans Condensed';

function xAxis(gi, labels) {
  return {
    type: 'value', gridIndex: gi, min: 0, max: 1440, interval: 120,
    name: 'time', nameLocation: 'middle', nameGap: 26,
    nameTextStyle: { fontFamily: FONT, fontSize: 12, color: '#000' },
    axisLine: { show: true, onZero: false, lineStyle: { color: '#000', width: 1.5 } },
    axisTick: { show: true, length: 7, lineStyle: { color: '#000', width: 1 } },
    minorTick: { show: true, splitNumber: 4, length: 4, lineStyle: { color: '#000', width: 0.8 } },
    splitLine: { show: true, lineStyle: { color: '#b0b0b0', width: 1.5 } },
    minorSplitLine: { show: true, lineStyle: { color: '#c8c8c8', width: 0.8, type: [3, 2] } },
    axisLabel: { margin: 10, fontFamily: TICKFONT, fontSize: 9, color: '#222',
      formatter: v => labels[Math.round(v / 120)] }
  };
}
function yAxis(gi, right) {
  return {
    type: 'value', gridIndex: gi, min: 36, max: 108, interval: 12, position: right ? 'right' : 'left',
    name: 'dB SPL', nameLocation: 'middle', nameGap: 30, nameRotate: 90,
    nameTextStyle: { fontFamily: FONT, fontSize: 12, color: '#000' },
    axisLine: { show: true, onZero: false, lineStyle: { color: '#000', width: 1.5 } },
    axisTick: { show: true, length: 7, lineStyle: { color: '#000', width: 1 } },
    minorTick: { show: true, splitNumber: 4, length: 4, lineStyle: { color: '#000', width: 0.8 } },
    splitLine: { show: !right, lineStyle: { color: '#b0b0b0', width: 1.5 } },
    minorSplitLine: { show: !right, lineStyle: { color: '#c8c8c8', width: 0.8, type: [3, 2] } },
    axisLabel: { margin: 12, fontFamily: TICKFONT, fontSize: 9, color: '#222' }
  };
}
function line(name, data, color, w, xi, yi) {
  return { name, type: 'line', data, xAxisIndex: xi, yAxisIndex: yi, showSymbol: false, symbol: 'none',
    lineStyle: { color, width: w }, itemStyle: { color }, z: 3 };
}
function dots(name, data, color) {
  return { name, type: 'scatter', data, xAxisIndex: 0, yAxisIndex: 0, symbol: plus, symbolSize: 5,
    itemStyle: { color, opacity: 0.85 }, z: 2 };
}

const chart = echarts.init(document.getElementById('c'), null, { renderer: 'canvas' });
chart.setOption({
  animation: false,
  backgroundColor: '#ffffff',
  title: [
    { text: 'data from [425/mic0]\nstarting point is [20231206_000001]', left: 23, top: 10, padding: 0,
      textStyle: { fontFamily: FONT, fontSize: 14, fontWeight: 'bold', lineHeight: 16, color: '#000' } },
    { text: 'average and peak noise level (1 min sampling)', left: 59, top: 64, padding: 0,
      textStyle: { fontFamily: FONT, fontSize: 12, fontWeight: 'bold', color: '#000' } },
    { text: 'average noise level (5 min with 15s min/max dB envelope)', left: 59, top: 625, padding: 0,
      textStyle: { fontFamily: FONT, fontSize: 12, fontWeight: 'bold', color: '#000' } }
  ],
  grid: [
    { left: 59, top: 84, width: 2282, height: 504, show: true, backgroundColor: '#fff5d8', borderColor: '#000', borderWidth: 1.5 },
    { left: 59, top: 644, width: 2282, height: 505, show: true, backgroundColor: '#fff5d8', borderColor: '#000', borderWidth: 1.5 }
  ],
  xAxis: [ xAxis(0, topTickLabels), xAxis(1, bottomTickLabels) ],
  yAxis: [ yAxis(0, false), yAxis(0, true), yAxis(1, false), yAxis(1, true) ],
  legend: [
    { data: [{ name: 'peak dB(Z)', icon: 'circle' }, { name: 'peak dB(C)', icon: 'circle' }, { name: 'peak dB(A)', icon: 'circle' }],
      orient: 'vertical', left: 2165, top: 544, padding: 0, itemGap: 0, itemWidth: 7, itemHeight: 7,
      textStyle: { fontFamily: FONT, fontSize: 10, color: '#000', lineHeight: 12 }, z: 6 },
    { data: ['avg dB(Z)', 'avg dB(C)', 'avg dB(A)'],
      orient: 'vertical', left: 2257, top: 544, padding: 0, itemGap: 0, itemWidth: 23, itemHeight: 3, icon: 'rect',
      textStyle: { fontFamily: FONT, fontSize: 10, color: '#000', lineHeight: 12 }, z: 6 },
    { data: ['dB(Z)', 'dB(C)', 'dB(A)'],
      orient: 'vertical', left: 2279, top: 1106, padding: 0, itemGap: 0, itemWidth: 22, itemHeight: 3, icon: 'rect',
      textStyle: { fontFamily: FONT, fontSize: 10, color: '#000', lineHeight: 12 }, z: 6 }
  ],
  graphic: [
    { type: 'rect', z: 5, shape: { x: 2156, y: 542, width: 182, height: 41, r: 3 },
      style: { fill: 'rgba(255,247,222,0.85)', stroke: '#d9c7a0', lineWidth: 1 } },
    { type: 'rect', z: 5, shape: { x: 2277, y: 1103, width: 61, height: 41, r: 3 },
      style: { fill: 'rgba(255,247,222,0.85)', stroke: '#d9c7a0', lineWidth: 1 } }
  ],
  series: [
    dots('peak dB(Z)', pairs(peakZ, 5).concat(pairsMid(peakZ2)), '#3d9bf5'),
    dots('peak dB(C)', pairs(peakC, 5).concat(pairsMid(peakC2)), '#f030f0'),
    dots('peak dB(A)', pairs(peakA, 5).concat(pairsMid(peakA2)), '#3c8c5c'),
    line('avg dB(Z)', pairs(avgZ, 5), '#5585b0', 1.5, 0, 0),
    line('avg dB(C)', pairs(avgC, 5), '#da78d6', 1.5, 0, 0),
    line('avg dB(A)', pairs(avgA, 5), '#9dcc3a', 1.5, 0, 0),
    { name: 'envelope', type: 'custom', xAxisIndex: 1, yAxisIndex: 2, z: 1,
      data: envMin.map((v, i) => [i * 5, v, envMax[i]]),
      encode: { x: 0, y: [1, 2] },
      renderItem: function (params, api) {
        if (params.dataIndex !== 0) return null;
        const top = envMax.map((v, i) => api.coord([i * 5, v]));
        const bot = envMin.map((v, i) => api.coord([i * 5, v])).reverse();
        return { type: 'polygon', shape: { points: top.concat(bot) },
          style: { fill: 'rgba(238,150,130,0.3)', stroke: 'rgba(232,150,130,0.4)', lineWidth: 0.6 } };
      } },
    line('dB(Z)', pairs(lvlZ, 10), '#dc1e3c', 2, 1, 2),
    line('dB(C)', pairs(lvlC, 10), '#ff8c0a', 2, 1, 2),
    line('dB(A)', pairs(lvlA, 10), '#ffd200', 2, 1, 2)
  ]
});
</script>
</body></html>
